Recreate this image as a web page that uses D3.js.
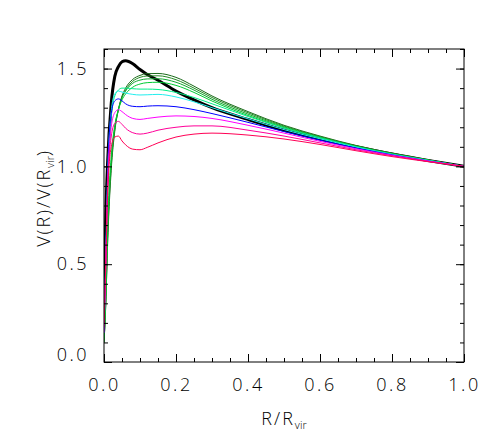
<!DOCTYPE html>
<html>
<head>
<meta charset="utf-8">
<script src="https://cdn.jsdelivr.net/npm/d3@7"></script>
<style>
  body { margin: 0; background: #fff; }
  text { font-family: "Open Sans", "Liberation Sans", sans-serif; font-weight: 300; }
</style>
</head>
<body>
<script>
// Size and plot box
var w = 491, h = 436;
var margin = {top: 49, right: 27, bottom: 74, left: 104};

// radius grid, R/Rvir
var radius = [0, 0.005, 0.01, 0.02, 0.03, 0.04, 0.05, 0.06, 0.08, 0.1, 0.12, 0.15, 0.2, 0.25, 0.3, 0.4, 0.5, 0.6, 0.7, 0.8, 0.9, 1.0];

// V(R)/V(Rvir) for each run
var vBlack   = [0.30, 0.75, 1.02, 1.32, 1.46, 1.51, 1.535, 1.54, 1.525, 1.495, 1.47, 1.44, 1.385, 1.34, 1.30, 1.24, 1.185, 1.14, 1.10, 1.063, 1.03, 1.0];
var vGreen1  = [0.10, 0.30, 0.60, 0.98, 1.18, 1.29, 1.36, 1.40, 1.445, 1.465, 1.474, 1.475, 1.455, 1.41, 1.36, 1.28, 1.21, 1.155, 1.107, 1.068, 1.034, 1.0];
var vGreen2  = [0.10, 0.30, 0.62, 1.00, 1.19, 1.29, 1.355, 1.39, 1.435, 1.455, 1.462, 1.463, 1.443, 1.40, 1.352, 1.274, 1.206, 1.152, 1.105, 1.066, 1.033, 1.0];
var vGreen3  = [0.10, 0.32, 0.65, 1.02, 1.20, 1.29, 1.35, 1.385, 1.425, 1.441, 1.447, 1.448, 1.43, 1.39, 1.343, 1.267, 1.202, 1.149, 1.103, 1.065, 1.032, 1.0];
var vGreen4  = [0.12, 0.35, 0.70, 1.05, 1.21, 1.29, 1.34, 1.37, 1.405, 1.421, 1.428, 1.43, 1.414, 1.378, 1.334, 1.26, 1.198, 1.146, 1.101, 1.063, 1.031, 1.0];
var vSpring  = [0.15, 0.50, 0.90, 1.25, 1.36, 1.39, 1.40, 1.40, 1.397, 1.395, 1.395, 1.393, 1.378, 1.352, 1.32, 1.255, 1.196, 1.146, 1.101, 1.063, 1.031, 1.0];
var vCyan    = [0.15, 0.55, 0.95, 1.28, 1.37, 1.385, 1.38, 1.375, 1.368, 1.365, 1.366, 1.368, 1.355, 1.33, 1.30, 1.243, 1.188, 1.141, 1.098, 1.061, 1.03, 1.0];
var vBlue    = [0.15, 0.55, 0.95, 1.27, 1.335, 1.345, 1.335, 1.32, 1.307, 1.305, 1.308, 1.31, 1.305, 1.29, 1.27, 1.225, 1.178, 1.134, 1.094, 1.059, 1.028, 1.0];
var vMagenta = [0.15, 0.50, 0.90, 1.20, 1.275, 1.29, 1.28, 1.265, 1.245, 1.24, 1.245, 1.252, 1.258, 1.255, 1.245, 1.21, 1.17, 1.128, 1.09, 1.057, 1.027, 1.0];
var vPink    = [0.18, 0.50, 0.88, 1.15, 1.22, 1.23, 1.215, 1.195, 1.172, 1.165, 1.17, 1.185, 1.20, 1.207, 1.207, 1.185, 1.155, 1.12, 1.085, 1.054, 1.026, 1.0];
var vRed     = [0.20, 0.50, 0.85, 1.10, 1.15, 1.155, 1.13, 1.11, 1.088, 1.085, 1.097, 1.12, 1.15, 1.165, 1.17, 1.16, 1.14, 1.112, 1.08, 1.05, 1.024, 1.0];

// black drawn first so the thin runs sit on top of it at large radius
var seriesValues = [vBlack, vGreen1, vGreen2, vGreen3, vGreen4, vSpring, vCyan, vBlue, vMagenta, vPink, vRed];
var seriesColors = ["#000000", "#1b6b1b", "#228b22", "#10a830", "#00cc33", "#00ee88", "#22eeee", "#0000ff", "#ff00ff", "#ff0099", "#ff0055"];
var seriesWidths = [3, 1, 1, 1, 1, 1, 1, 1, 1, 1, 1];

// tick labels
var xTicks = [0, 0.2, 0.4, 0.6, 0.8, 1.0];
var yTicks = [0, 0.5, 1.0, 1.5];

var x = d3.scaleLinear().domain([0, 1]).range([margin.left, w - margin.right]);
var y = d3.scaleLinear().domain([0, 1.6]).range([h - margin.bottom, margin.top]);

var svg = d3.select("body").append("svg")
  .attr("width", w)
  .attr("height", h);

var pBottom = y(0), pTop = y(1.6), pLeft = x(0), pRight = x(1);

svg.append("defs").append("clipPath").attr("id", "plotclip")
  .append("rect")
  .attr("x", pLeft).attr("y", pTop)
  .attr("width", pRight - pLeft).attr("height", pBottom - pTop);

//Curves
var line = d3.line()
  .x(function(d) { return x(d[0]); })
  .y(function(d) { return y(d[1]); })
  .curve(d3.curveMonotoneX);

svg.append("g").attr("clip-path", "url(#plotclip)")
  .selectAll("path")
  .data(seriesValues)
  .enter().append("path")
  .attr("d", function(vals) { return line(radius.map(function(r, i) { return [r, vals[i]]; })); })
  .attr("fill", "none")
  .attr("stroke", function(d, i) { return seriesColors[i]; })
  .attr("stroke-width", function(d, i) { return seriesWidths[i]; })
  .attr("stroke-linejoin", "round");

//Axes, ticks pointing inward on all four sides
var fs = "18px";

function styleAxis(g) {
  g.select(".domain").remove();
  g.selectAll(".tick line").attr("stroke", "#000").attr("stroke-width", 1);
  g.selectAll(".tick text")
    .attr("fill", "#000")
    .style("font-size", fs)
    .style("letter-spacing", "2.5px");
}

var xMinor = d3.range(0, 1.0001, 0.05);
var yMinor = d3.range(0, 1.6001, 0.1);

svg.append("g").attr("transform", "translate(0," + pBottom + ")")
  .call(d3.axisBottom(x).tickValues(xMinor).tickSize(-4).tickFormat(""))
  .call(styleAxis);
svg.append("g").attr("transform", "translate(0," + pBottom + ")")
  .call(d3.axisBottom(x).tickValues(xTicks).tickSize(-8).tickPadding(16).tickFormat(d3.format(".1f")))
  .call(styleAxis);
svg.append("g").attr("transform", "translate(0," + pTop + ")")
  .call(d3.axisTop(x).tickValues(xMinor).tickSize(-4).tickFormat(""))
  .call(styleAxis);
svg.append("g").attr("transform", "translate(0," + pTop + ")")
  .call(d3.axisTop(x).tickValues(xTicks).tickSize(-8).tickFormat(""))
  .call(styleAxis);

svg.append("g").attr("transform", "translate(" + pLeft + ",0)")
  .call(d3.axisLeft(y).tickValues(yMinor).tickSize(-4).tickFormat(""))
  .call(styleAxis);
var yAx = svg.append("g").attr("transform", "translate(" + pLeft + ",0)")
  .call(d3.axisLeft(y).tickValues(yTicks).tickSize(-8).tickPadding(15).tickFormat(d3.format(".1f")))
  .call(styleAxis);
yAx.selectAll(".tick").filter(function(d) { return d === 0; })
  .select("text").attr("dy", "-0.08em");
svg.append("g").attr("transform", "translate(" + pRight + ",0)")
  .call(d3.axisRight(y).tickValues(yMinor).tickSize(-4).tickFormat(""))
  .call(styleAxis);
svg.append("g").attr("transform", "translate(" + pRight + ",0)")
  .call(d3.axisRight(y).tickValues(yTicks).tickSize(-8).tickFormat(""))
  .call(styleAxis);

//Frame
svg.append("rect")
  .attr("x", pLeft).attr("y", pTop)
  .attr("width", pRight - pLeft).attr("height", pBottom - pTop)
  .attr("fill", "none")
  .attr("stroke", "#000")
  .attr("stroke-width", 1);

//Axis titles
var xt = svg.append("text")
  .attr("x", (pLeft + pRight) / 2)
  .attr("y", 425)
  .attr("text-anchor", "middle")
  .style("font-size", fs)
  .style("letter-spacing", "2px");
xt.append("tspan").text("R/R");
xt.append("tspan").attr("dy", "4").style("font-size", "11px").style("letter-spacing", "0px").text("vir");

var yt = svg.append("text")
  .attr("transform", "translate(50," + 198 + ") rotate(-90)")
  .attr("text-anchor", "middle")
  .style("font-size", fs)
  .style("letter-spacing", "2px");
yt.append("tspan").text("V(R)/V(R");
yt.append("tspan").attr("dy", "4").style("font-size", "11px").style("letter-spacing", "0px").text("vir");
yt.append("tspan").attr("dy", "-4").text(")");
</script>
</body>
</html>
